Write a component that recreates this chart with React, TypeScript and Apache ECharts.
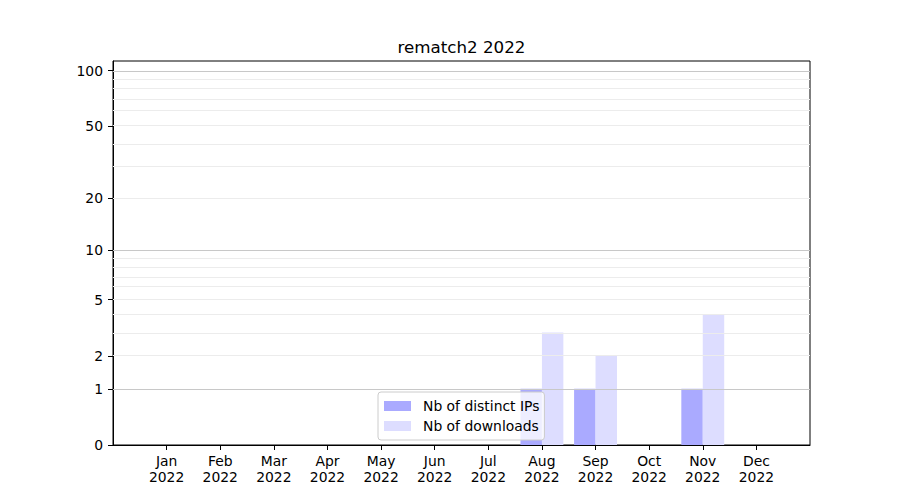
import React, { useEffect, useRef } from "react";
import * as echarts from "echarts";

const months = ["Jan", "Feb", "Mar", "Apr", "May", "Jun", "Jul", "Aug", "Sep", "Oct", "Nov", "Dec"];
const year = "2022";
const distinctIPs = [0, 0, 0, 0, 0, 0, 0, 1, 1, 0, 1, 0];
const downloads = [0, 0, 0, 0, 0, 0, 0, 3, 2, 0, 4, 0];
const majorTicks = [0, 1, 2, 5, 10, 20, 50, 100];
const majorGrid = [1, 10, 100];
const minorGrid = [2, 3, 4, 5, 6, 7, 8, 9, 20, 30, 40, 50, 60, 70, 80, 90];
const titleText = "rematch2 2022";

const FONT = "DejaVu Sans";
const tf = (v: number) => Math.log10(1 + v);
const Y_MAX = 2.0557;

export default function App() {
  const ref = useRef<HTMLDivElement>(null);
  useEffect(() => {
    if (!ref.current) return;
    const chart = echarts.init(ref.current, null, { renderer: "svg" });
    const cats = ["", ...months.map((m) => `${m}\n${year}`), ""];
    const toBar = (arr: number[]) => [null, ...arr.map((v) => (v > 0 ? tf(v) : null)), null];
    const gridLines = [
      ...minorGrid.map((v) => ({ yAxis: tf(v), lineStyle: { color: "#ececec", width: 1, type: "solid" } })),
      ...majorGrid.map((v) => ({ yAxis: tf(v), lineStyle: { color: "#c8c8c8", width: 1, type: "solid" } })),
    ];
    chart.setOption({
      animation: false,
      backgroundColor: "#ffffff",
      textStyle: { fontFamily: FONT, color: "#000" },
      title: {
        text: titleText,
        left: 456.5,
        top: 33,
        textAlign: "center",
        textStyle: { fontFamily: FONT, fontSize: 16.7, fontWeight: "normal", color: "#000" },
      },
      grid: {
        left: 113,
        right: 90,
        top: 61,
        bottom: 55,
        show: true,
        borderColor: "#000",
        borderWidth: 1,
        backgroundColor: "#fff",
        containLabel: false,
      },
      legend: {
        orient: "vertical",
        left: 378,
        top: 392,
        padding: [7, 5, 7, 6],
        itemWidth: 27,
        itemHeight: 10,
        itemGap: 6,
        backgroundColor: "rgba(255,255,255,0.8)",
        borderColor: "#cccccc",
        borderWidth: 1,
        borderRadius: 3,
        data: ["Nb of distinct IPs", "Nb of downloads"],
        textStyle: { fontFamily: FONT, fontSize: 13.9, color: "#000", lineHeight: 10, padding: [0, 0, 0, 7] },
        icon: "rect",
      },
      xAxis: {
        type: "category",
        data: cats,
        boundaryGap: false,
        axisLine: { show: true, lineStyle: { color: "#000", width: 1 } },
        axisTick: {
          show: true,
          length: 5,
          lineStyle: { color: "#000" },
          interval: (i: number, v: string) => v !== "",
        },
        axisLabel: {
          show: true,
          interval: (i: number, v: string) => v !== "",
          fontFamily: FONT,
          fontSize: 13.9,
          lineHeight: 16,
          color: "#000",
          margin: 8,
        },
        splitLine: { show: false },
      },
      yAxis: {
        type: "value",
        min: 0,
        max: Y_MAX,
        axisLine: { show: true, lineStyle: { color: "#000", width: 1 } },
        axisTick: { show: true, length: 5, lineStyle: { color: "#000" }, customValues: majorTicks.map(tf) },
        axisLabel: {
          show: true,
          customValues: majorTicks.map(tf),
          formatter: (v: number) => String(Math.round(Math.pow(10, v) - 1)),
          fontFamily: FONT,
          fontSize: 13.9,
          color: "#000",
          margin: 10,
        },
        splitLine: { show: false },
      },
      series: [
        {
          name: "Nb of distinct IPs",
          type: "bar",
          data: toBar(distinctIPs),
          barWidth: "40%",
          barGap: "0%",
          itemStyle: { color: "#aaaaff" },
          z: 2,
        },
        {
          name: "Nb of downloads",
          type: "bar",
          data: toBar(downloads),
          barWidth: "40%",
          barGap: "0%",
          itemStyle: { color: "#ddddff" },
          z: 2,
        },
        {
          name: "grid",
          type: "line",
          data: [],
          z: 3,
          silent: true,
          markLine: {
            silent: true,
            symbol: ["none", "none"],
            label: { show: false },
            animation: false,
            data: gridLines,
          },
        },
      ],
    });
    return () => chart.dispose();
  }, []);
  return <div ref={ref} style={{ width: 900, height: 500, position: "absolute", left: 0, top: 0 }} />;
}
